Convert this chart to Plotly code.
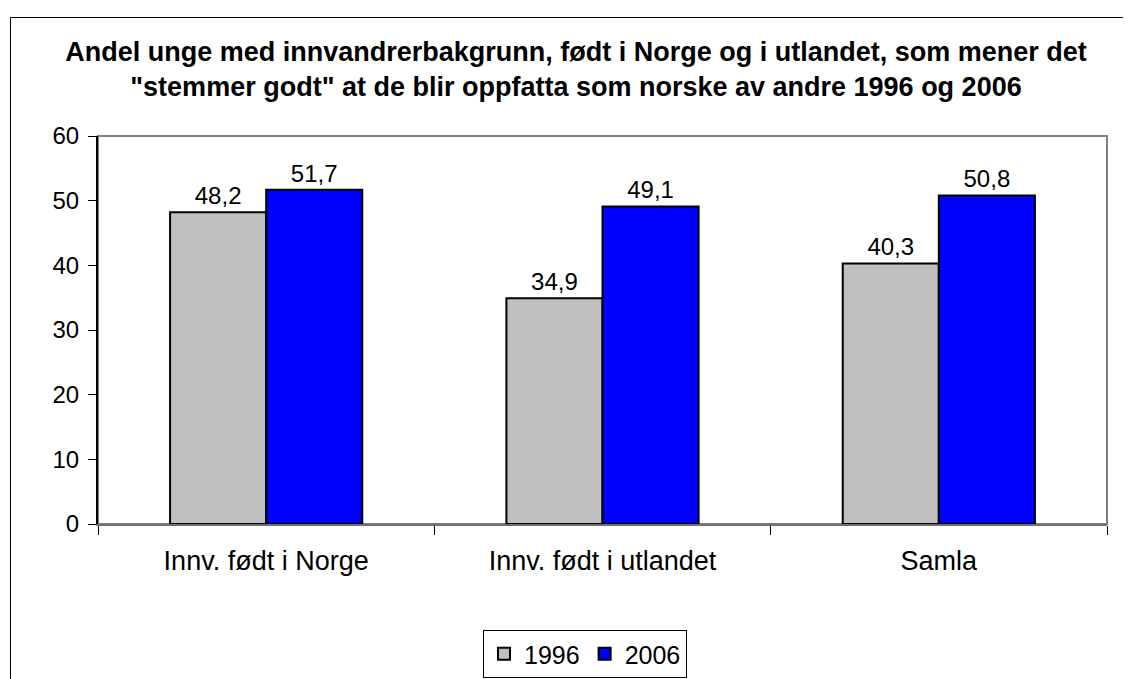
import plotly.graph_objects as go

categories = ["Innv. født i Norge", "Innv. født i utlandet", "Samla"]
values_1996 = [48.2, 34.9, 40.3]
values_2006 = [51.7, 49.1, 50.8]
series_names = ["1996", "2006"]
title_lines = [
    "Andel unge med innvandrerbakgrunn, født i Norge og i utlandet, som mener det",
    "\"stemmer godt\" at de blir oppfatta som norske av andre 1996 og 2006",
]

FONT = "Liberation Sans, Arial, sans-serif"

fig = go.Figure()
fig.add_trace(go.Bar(
    x=categories, y=values_1996, name=series_names[0],
    marker=dict(color="#C0C0C0", line=dict(color="black", width=2)),
    texttemplate="%{y:.1f}", textposition="outside",
    textfont=dict(size=24, color="black", family=FONT), cliponaxis=False,
))
fig.add_trace(go.Bar(
    x=categories, y=values_2006, name=series_names[1],
    marker=dict(color="#0000FF", line=dict(color="black", width=2)),
    texttemplate="%{y:.1f}", textposition="outside",
    textfont=dict(size=24, color="black", family=FONT), cliponaxis=False,
))

OFF = 8  # page body margin
PW, PH = 1131, 679
W, H = PW - OFF, PH - OFF
L = 98 - OFF
T = 136 - OFF
R = PW - 1107
B = PH - 524
pw, ph = W - L - R, H - T - B


def px2paper_x(px):
    return (px - OFF - L) / pw


def px2paper_y(py):
    return (H - B - (py - OFF)) / ph


fig.update_layout(
    width=W, height=H,
    margin=dict(l=L, r=R, t=T, b=B, pad=0, autoexpand=False),
    paper_bgcolor="white", plot_bgcolor="white",
    separators=", ",
    font=dict(family=FONT, color="black"),
    barmode="group", bargap=0.4286, bargroupgap=0,
    title=dict(
        text="<b>" + title_lines[0] + "<br>" + title_lines[1] + "</b>",
        x=(576 - OFF) / W, xanchor="center", y=1 - (61 - OFF) / H, yanchor="top",
        font=dict(size=27, family=FONT, color="black"),
    ),
    xaxis=dict(
        type="category", tickson="boundaries", ticks="outside", ticklen=9,
        tickcolor="black", tickwidth=1, showline=True, linecolor="#707070",
        linewidth=2, showgrid=False, tickfont=dict(size=27, family=FONT),
        ticklabelstandoff=12,
    ),
    yaxis=dict(
        range=[0, 60], dtick=10, ticks="outside", ticklen=8, tickcolor="black",
        showline=True, linecolor="black", linewidth=2, showgrid=False,
        zeroline=False, tickfont=dict(size=24, family=FONT),
        ticklabelstandoff=4,
    ),
    legend=dict(
        orientation="h", x=px2paper_x(585), xanchor="center",
        y=px2paper_y(630), yanchor="top",
        bordercolor="black", borderwidth=1, bgcolor="white",
        font=dict(size=25, family=FONT), itemwidth=30,
        traceorder="normal", tracegroupgap=0,
    ),
    showlegend=True,
)

# plot area border (gray top/right)
fig.add_shape(type="rect", xref="paper", yref="paper", x0=0, x1=1, y0=0, y1=1,
              line=dict(color="#808080", width=2), layer="below")
# outer chart border (left & top visible)
xl = px2paper_x(10.5)
yt = px2paper_y(17.5)
fig.add_shape(type="line", xref="paper", yref="paper", x0=xl, x1=xl, y0=yt, y1=-2,
              line=dict(color="black", width=1))
fig.add_shape(type="line", xref="paper", yref="paper", x0=xl, x1=2, y0=yt, y1=yt,
              line=dict(color="black", width=1))

fig.write_html("out.html")
